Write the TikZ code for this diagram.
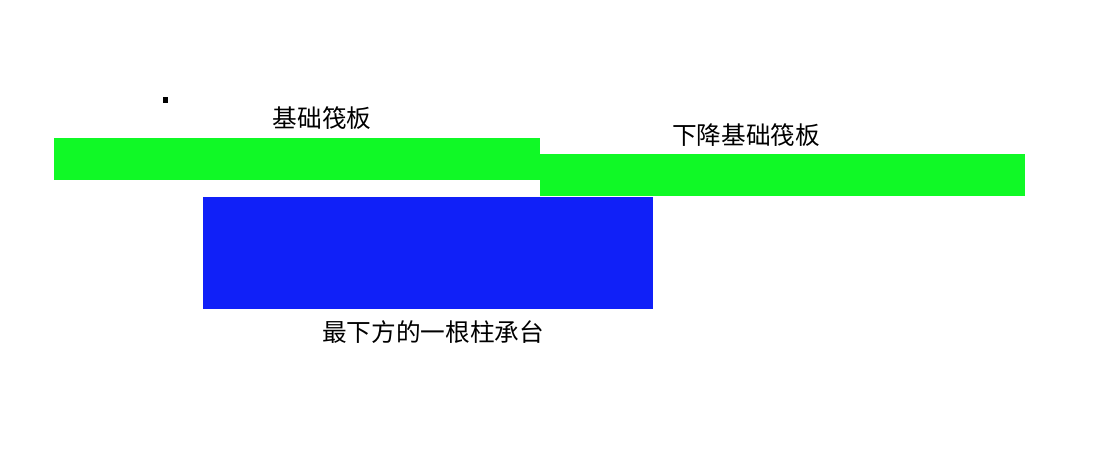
\documentclass[tikz,border=0pt]{standalone}
\usepackage{fontspec}
\newfontfamily\cjk{Noto Sans CJK SC}
\usetikzlibrary{positioning}

\begin{document}
\begin{tikzpicture}[x=0.75pt,y=0.75pt,yscale=-1,xscale=1]
\tikzset{raft/.style={fill={rgb, 255:red, 16; green, 249; blue, 38}, draw=none},
  pilecap/.style={fill={rgb, 255:red, 16; green, 32; blue, 248}, draw=none},
  txt/.style={inner sep=0.75pt, font=\cjk\fontsize{18.5}{22}\selectfont}}
%set diagram size
\useasboundingbox (0,0) rectangle (1103,468);

%Shape: Rectangle [id:raft]
\draw [raft] (54,138) rectangle (540,180) ;
%Shape: Rectangle [id:lowraft]
\draw [raft] (540,154) rectangle (1025,196) ;
%Shape: Rectangle [id:pilecap]
\draw [pilecap] (203,197) rectangle (653,309) ;
%Shape: Square [id:dot]
\fill (163,97) rectangle (168,103) ;

% Text Node
\node [txt] (raftlabel) at (322,118) {基础筏板};
% Text Node
\node [txt] (lowraftlabel) at (746,135) {下降基础筏板};
% Text Node
\node [txt] (caplabel) at (433,332) {最下方的一根柱承台};

\end{tikzpicture}
\end{document}
